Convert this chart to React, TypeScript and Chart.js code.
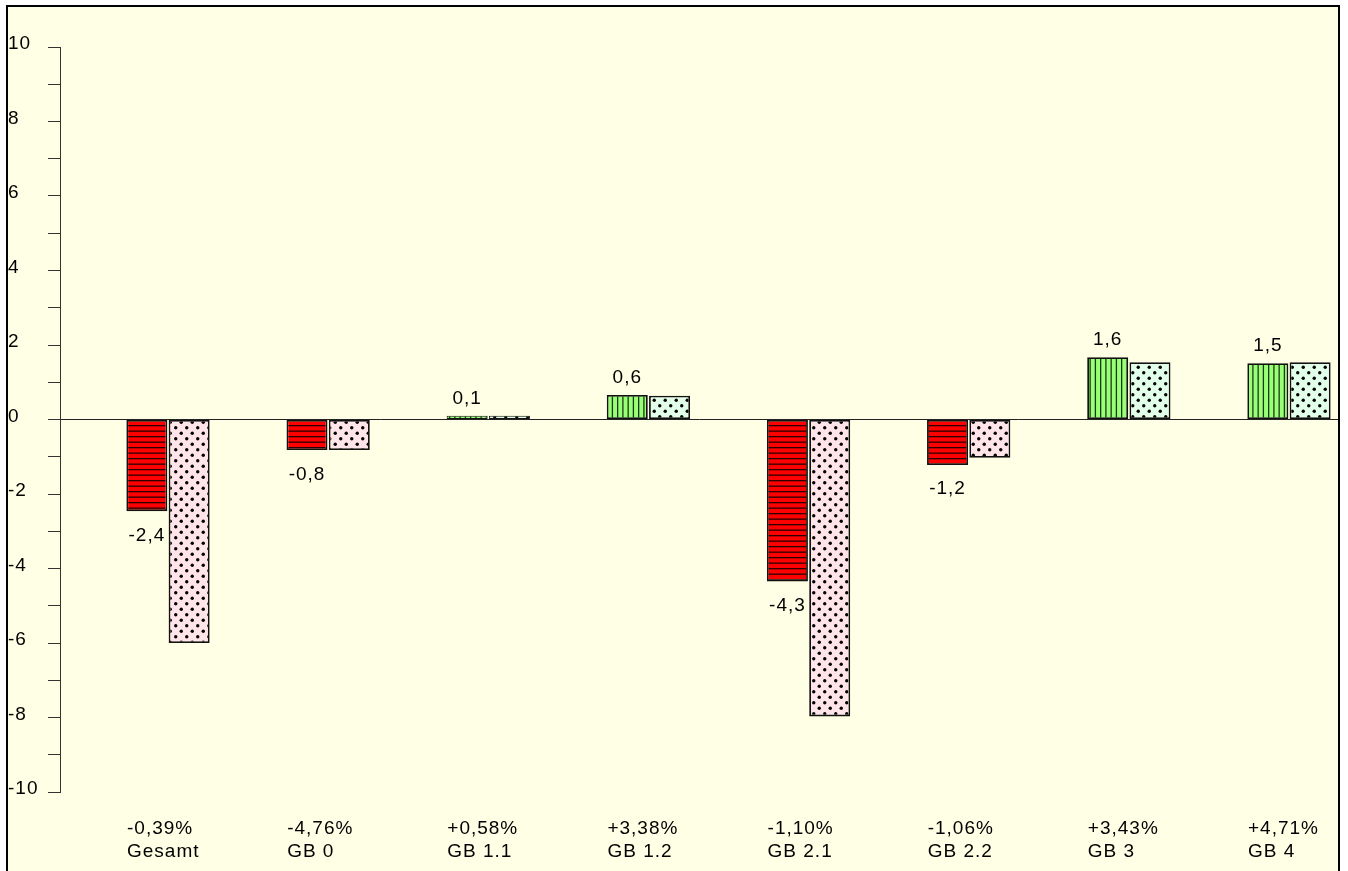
import React, { useEffect, useRef } from 'react';
import { Chart, registerables } from 'chart.js';

Chart.register(...registerables);

// ---- data ----
const categories = ['Gesamt', 'GB 0', 'GB 1.1', 'GB 1.2', 'GB 2.1', 'GB 2.2', 'GB 3', 'GB 4'];
const changeLabels = ['-0,39%', '-4,76%', '+0,58%', '+3,38%', '-1,10%', '-1,06%', '+3,43%', '+4,71%'];
const seriesStriped = [-2.46, -0.82, 0.1, 0.66, -4.35, -1.22, 1.67, 1.51];
const seriesDotted = [-6.0, -0.82, 0.1, 0.64, -7.97, -1.03, 1.54, 1.54];
const yMin = -10;
const yMax = 10;
const yStep = 1;
const yLabelEvery = 2;

const FONT = '"Liberation Sans", Arial, sans-serif';
const FSIZE = 19;

function makePattern(w: number, h: number, draw: (c: CanvasRenderingContext2D) => void) {
  const cv = document.createElement('canvas');
  cv.width = w;
  cv.height = h;
  const c = cv.getContext('2d') as CanvasRenderingContext2D;
  draw(c);
  return c.createPattern(cv, 'repeat') as CanvasPattern;
}

function buildPatterns() {
  const redStripes = makePattern(4, 11, (c) => {
    c.fillStyle = '#FF0000';
    c.fillRect(0, 0, 4, 11);
    c.fillStyle = '#2a0000';
    c.fillRect(0, 0, 4, 1.3);
    c.fillRect(0, 5.5, 4, 1.3);
  });
  const greenStripes = makePattern(21, 4, (c) => {
    c.fillStyle = '#99FF77';
    c.fillRect(0, 0, 21, 4);
    c.fillStyle = '#1c3a12';
    for (let i = 0; i < 4; i++) c.fillRect(i * 5.25, 0, 1.3, 4);
  });
  const dots = (bg: string) =>
    makePattern(11, 11, (c) => {
      c.fillStyle = bg;
      c.fillRect(0, 0, 11, 11);
      c.fillStyle = '#000';
      c.beginPath();
      c.arc(2.75, 2.75, 1.7, 0, Math.PI * 2);
      c.fill();
      c.beginPath();
      c.arc(8.25, 8.25, 1.7, 0, Math.PI * 2);
      c.fill();
    });
  return { redStripes, greenStripes, pinkDots: dots('#FFE4EA'), mintDots: dots('#E2FFEA') };
}

function fmt(v: number) {
  return (Math.trunc(Math.round(v * 1000) / 100) / 10).toFixed(1).replace('.', ',');
}

export default function App() {
  const ref = useRef<HTMLCanvasElement | null>(null);

  useEffect(() => {
    if (!ref.current) return;
    const p = buildPatterns();

    const spacingPlugin = {
      id: 'spacing',
      beforeDraw(chart: any) {
        chart.ctx.letterSpacing = '1px';
      },
    };

    const valueLabels = {
      id: 'valueLabels',
      afterDatasetsDraw(chart: any) {
        const ctx = chart.ctx;
        const meta = chart.getDatasetMeta(0);
        ctx.save();
        ctx.font = `${FSIZE}px ${FONT}`;
        ctx.fillStyle = '#000';
        ctx.textAlign = 'center';
        ctx.textBaseline = 'alphabetic';
        meta.data.forEach((bar: any, i: number) => {
          const v = seriesStriped[i];
          const y = v < 0 ? bar.y + 29.5 : bar.y - 12;
          ctx.fillText(fmt(v), bar.x, y);
        });
        ctx.restore();
      },
    };

    const bw = (v: number) => (Math.abs(v) < 0.2 ? 1 : 1.8);

    const chart = new Chart(ref.current, {
      type: 'bar',
      data: {
        datasets: [
          {
            label: 'A',
            data: seriesStriped.map((v, i) => ({ x: i, y: v })),
            backgroundColor: seriesStriped.map((v) => (v < 0 ? p.redStripes : p.greenStripes)),
            borderColor: '#111',
            borderWidth: seriesStriped.map(bw),
            borderSkipped: false,
          },
          {
            label: 'B',
            data: seriesDotted.map((v, i) => ({ x: i, y: v })),
            backgroundColor: seriesDotted.map((v) => (v < 0 ? p.pinkDots : p.mintDots)),
            borderColor: '#111',
            borderWidth: seriesDotted.map(bw),
            borderSkipped: false,
          },
        ] as any,
      },
      options: {
        animation: false,
        responsive: false,
        devicePixelRatio: 1,
        categoryPercentage: 0.528,
        barPercentage: 0.97,
        layout: { padding: { left: 0, right: 0, top: 40, bottom: 15 } },
        plugins: { legend: { display: false }, tooltip: { enabled: false } },
        scales: {
          x: {
            type: 'linear',
            offset: false,
            min: -0.6744,
            max: 7.3061,
            grid: { display: false, drawTicks: false },
            border: { display: false },
            afterBuildTicks(scale: any) {
              scale.ticks = categories.map((_, i) => ({ value: i }));
            },
            afterFit(scale: any) {
              scale.height = 100;
              scale.paddingLeft = 0;
              scale.paddingRight = 0;
            },
            ticks: {
              autoSkip: false,
              maxRotation: 0,
              minRotation: 0,
              align: 'start',
              labelOffset: -41,
              padding: 25,
              color: '#000',
              font: { family: FONT, size: FSIZE, lineHeight: 23 / FSIZE },
              callback: (value: any) => [changeLabels[value], categories[value]],
            },
          },
          y: {
            min: yMin,
            max: yMax,
            afterFit(scale: any) {
              scale.width = 52;
              scale.paddingTop = 0;
              scale.paddingBottom = 0;
            },
            border: { display: true, color: '#333', width: 1 },
            grid: {
              drawOnChartArea: true,
              drawTicks: true,
              tickLength: 12,
              tickColor: '#333',
              lineWidth: 1,
              color: (c: any) => (c.tick && c.tick.value === 0 ? '#222' : 'rgba(0,0,0,0)'),
            },
            ticks: {
              stepSize: yStep,
              crossAlign: 'far',
              labelOffset: -3,
              color: '#000',
              font: { family: FONT, size: FSIZE },
              callback: (v: any) => (Number(v) % yLabelEvery === 0 ? String(v) : ''),
            },
          },
        },
      } as any,
      plugins: [spacingPlugin, valueLabels],
    });

    return () => chart.destroy();
  }, []);

  return (
    <div style={{ position: 'fixed', left: 0, top: 0, width: 1348, height: 871, overflow: 'hidden' }}>
      <div
        style={{
          position: 'absolute',
          left: 6,
          top: 5,
          width: 1330,
          height: 900,
          border: '2px solid #000',
          background: '#FFFFE5',
        }}
      >
        <canvas ref={ref} width={1330} height={900} style={{ display: 'block' }} />
      </div>
    </div>
  );
}
